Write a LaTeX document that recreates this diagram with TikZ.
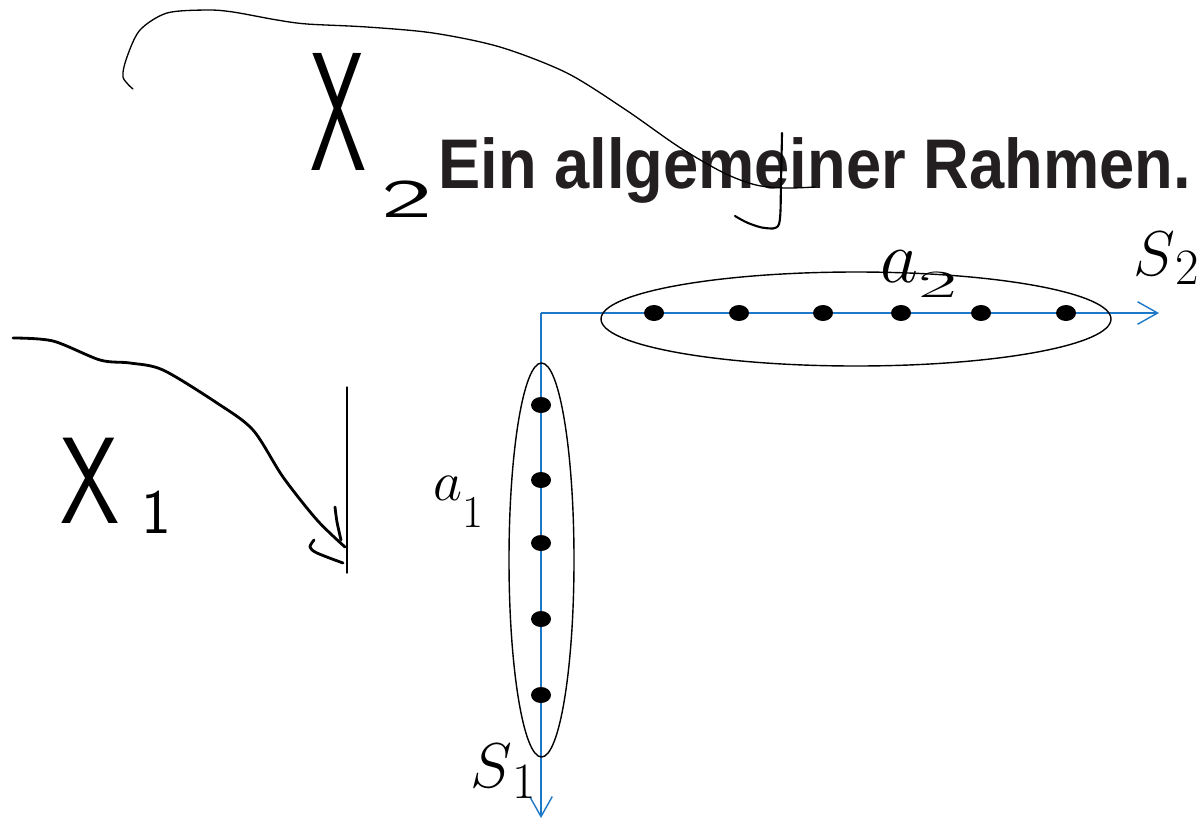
\RequirePackage{fix-cm}
\documentclass[tikz,border=0pt]{standalone}
\usepackage{fontspec}
\usepackage{graphicx}
\newfontfamily\titlefont{Liberation Sans}
\usepackage{tikz}
\usetikzlibrary{shapes.geometric, positioning, arrows.meta, calc}

\definecolor{axisblue}{RGB}{30,120,200}
\definecolor{titlegray}{RGB}{35,31,32}

\begin{document}
\begin{tikzpicture}[x=0.2mm, y=-0.2mm, >={Straight Barb[length=4mm,width=4.5mm]},
  axis/.style={draw=axisblue, line width=0.8pt, ->},
  dot/.style={ellipse, fill=black, minimum width=0.4cm, minimum height=0.32cm, inner sep=0pt},
  group/.style={draw, line width=0.8pt},
  stroke/.style={draw, line width=1.6pt, line cap=round, line join=round},
  thinstroke/.style={draw, line width=0.75pt, line cap=round},
  hand/.style={inner sep=0pt, anchor=base west, font=\sffamily},
  symb/.style={inner sep=0pt, anchor=base west, font=\fontsize{36}{40}\selectfont}]
  \useasboundingbox (0,0) rectangle (1201,819);

  % title
  \node[inner sep=0pt, anchor=base west, text=titlegray, font=\titlefont\bfseries\fontsize{40}{44}\selectfont] (title) at (438,188) {\scalebox{0.9}[1]{Ein allgemeiner Rahmen.}};

  % axes
  \coordinate (O) at (541,313);
  \coordinate (endS2) at (1159,313);
  \coordinate (endS1) at (541,818);
  \draw[axis] (O) -- (endS2);
  \draw[axis] (O) -- (endS1);
  \node[symb] (S2) at (1133,275) {$S$\raisebox{-0.18cm}{\fontsize{29}{29}\selectfont 2}};
  \node[symb] (S1) at (470,787) {$S$\raisebox{-0.22cm}{\fontsize{29}{29}\selectfont 1}};

  % the two groups
  \draw[group] (856,319) ellipse [x radius=255, y radius=47];
  \draw[group] (541.5,560) ellipse [x radius=32.5, y radius=197];
  \foreach \x [count=\i] in {654,739,823,901,981,1066}
    \node[dot] (h\i) at (\x,313) {};
  \foreach \y [count=\i] in {405,480,543,619,695}
    \node[dot] (v\i) at (541,\y) {};
  \node[hand, font=\fontsize{42}{42}\selectfont] (a2) at (880,282) {$a$\raisebox{-0.3cm}{\fontsize{22}{22}\selectfont\scalebox{2.2}[1]{2}}};
  \node[hand, font=\fontsize{32}{32}\selectfont] (a1) at (433,500) {$a$\raisebox{-0.55cm}{\fontsize{26}{26}\selectfont 1}};

  % handwritten notes
  \node[hand] (X2) at (310,170) {\fontsize{96}{96}\selectfont\scalebox{0.53}[1]{X}\hspace{0.3cm}\raisebox{-0.94cm}{\fontsize{31}{31}\selectfont\scalebox{2}[1]{2}}};
  \node[hand] (X1) at (60,523) {\fontsize{70}{70}\selectfont\scalebox{0.77}[1]{X}\hspace{0.44cm}\raisebox{-0.2cm}{\fontsize{36}{36}\selectfont 1}};

  \draw[thinstroke] plot[smooth] coordinates {(133,89) (123,77) (127,57) (140,30) (167,13) (207,10) (233,12) (277,20) (307,24) (367,27) (433,33) (500,47) (567,73) (626,110) (679,147) (724,173) (756,185) (785,188) (815,187)};
  \draw[stroke, line width=1.2pt] plot[smooth] coordinates {(782,133) (781,180) (779,224) (765,228) (748,223) (735,216)};

  \draw[stroke] plot[smooth] coordinates {(13,338) (53,341) (100,360) (130,363) (163,370) (217,403) (253,430) (283,477) (317,520) (345,547)};
  \draw[stroke] plot[smooth] coordinates {(335,507) (337,522) (341,540)};
  \draw[stroke] plot[smooth] coordinates {(314,540) (310,547) (317,553) (343,563)};
  \draw[thinstroke] (347,387) -- (347,573);
\end{tikzpicture}
\end{document}
